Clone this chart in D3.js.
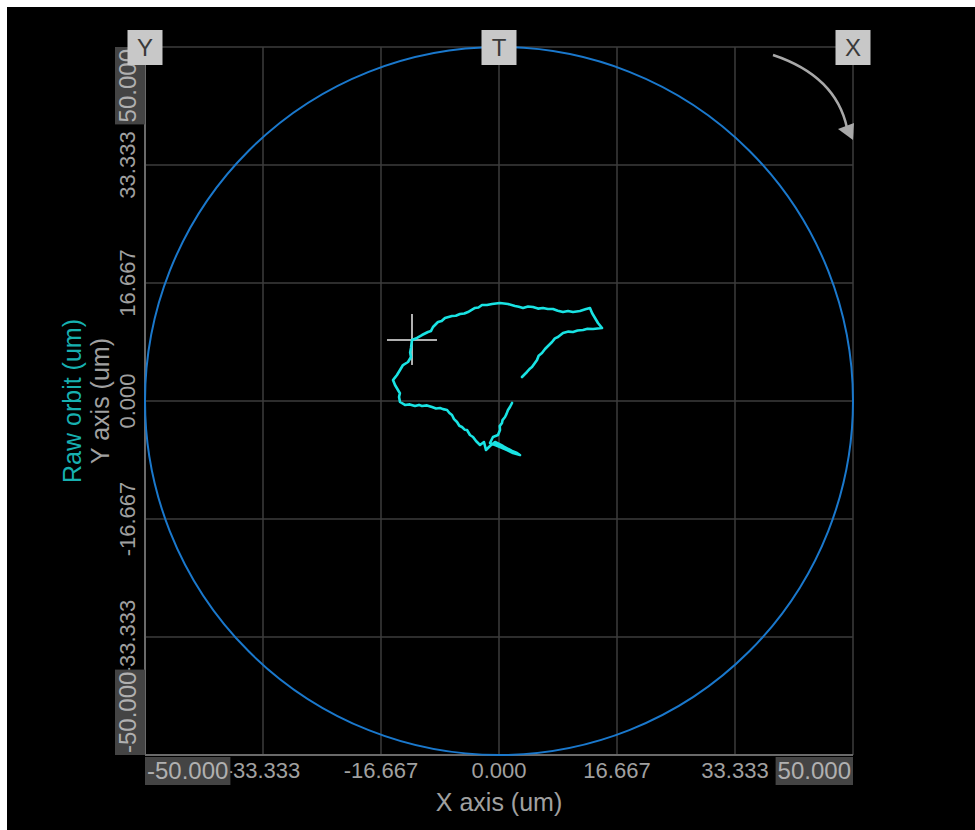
<!DOCTYPE html>
<html>
<head>
<meta charset="utf-8">
<script src="https://cdn.jsdelivr.net/npm/d3@7"></script>
<style>
  html, body { margin: 0; padding: 0; background: #ffffff; }
  svg { display: block; }
  text { font-family: "Liberation Sans", Arial, sans-serif; }
</style>
</head>
<body>
<svg id="chart" width="975" height="830"></svg>
<script>
// Axis ranges and tick labels (um)
const axisMin = -50;
const axisMax = 50;
const tickValues = [-50, -33.333, -16.667, 0, 16.667, 33.333, 50];
const tickLabels = ["-50.000", "-33.333", "-16.667", "0.000", "16.667", "33.333", "50.000"];

// Reference circle radius (um)
const circleRadius = 50;

// Raw orbit samples (um)
const orbitX = [1.84, 1.55, 1.27, 1.05, 0.85, 0.50, 0.42, 0.10, 0.14, -0.14, -0.85, -1.27, 0.14, 1.13, 1.98, 2.97, 2.55, 1.84, 0.56, -0.56,
  -1.27, -1.84, -2.12, -2.68, -3.25, -3.67, -4.10, -4.52, -4.85, -5.23, -5.60, -5.93, -6.35, -6.64, -7.00, -7.34, -7.90, -8.33, -8.90, -9.46,
  -10.17, -10.88, -11.30, -11.86, -12.60, -13.28, -13.98, -14.12, -14.00, -14.27, -14.69, -14.97, -14.70, -14.41, -13.98, -13.56, -12.85, -12.43, -12.55, -12.43,
  -12.29, -11.58, -10.88, -10.03, -9.60, -9.32, -8.62, -8.10, -7.63, -6.64, -6.10, -5.51, -4.90, -4.38, -3.39, -2.90, -2.40, -1.70, -0.99, 0.14,
  1.27, 2.26, 2.80, 3.39, 4.10, 4.80, 5.50, 6.21, 6.90, 7.63, 8.30, 9.04, 9.75, 10.45, 11.44, 12.20, 12.85, 13.14, 13.56, 13.98,
  14.55, 13.28, 12.50, 11.86, 11.10, 10.45, 9.80, 9.04, 8.33, 7.90, 7.49, 6.78, 6.50, 6.07, 5.60, 5.37, 4.66, 4.40, 3.95, 3.25];
const orbitY = [-0.28, -0.85, -1.27, -1.85, -2.26, -2.70, -3.11, -3.55, -4.10, -4.80, -5.08, -5.93, -6.50, -6.92, -7.34, -7.63, -7.35, -7.06, -6.36, -5.79,
  -6.36, -6.92, -5.79, -6.21, -5.65, -5.08, -4.80, -4.10, -4.05, -3.67, -3.50, -2.97, -2.55, -1.98, -1.70, -1.27, -1.15, -0.99, -1.05, -0.85,
  -0.62, -0.71, -0.55, -0.71, -0.48, -0.56, -0.14, 0.56, 1.10, 1.55, 2.26, 2.97, 3.30, 3.67, 4.38, 5.08, 5.51, 6.21, 6.85, 7.49,
  8.62, 8.90, 9.32, 9.75, 9.90, 10.45, 11.16, 11.30, 11.72, 12.01, 12.05, 12.29, 12.35, 12.57, 13.14, 13.20, 13.56, 13.55, 13.70, 13.84,
  13.70, 13.42, 13.30, 13.14, 13.35, 13.28, 13.05, 13.14, 13.00, 12.99, 12.75, 12.57, 12.72, 12.57, 12.71, 12.95, 13.14, 12.43, 11.72, 11.02,
  10.31, 10.17, 10.20, 10.03, 9.95, 9.75, 9.80, 9.60, 9.04, 8.85, 8.33, 7.63, 7.35, 6.78, 6.40, 5.79, 4.80, 4.60, 4.10, 3.39];

// Sample highlighted with the cursor cross
const markerIndex = 60;

const svg = d3.select("#chart");
const plot = { left: 145, top: 47, size: 708 };

const x = d3.scaleLinear().domain([axisMin, axisMax]).range([plot.left, plot.left + plot.size]);
const y = d3.scaleLinear().domain([axisMin, axisMax]).range([plot.top + plot.size, plot.top]);

const gridColor = "#3c3c3c";
const labelColor = "#a0a0a0";
const tickFont = 22;
const endFont = 24;

// Black panel
svg.append("rect").attr("x", 7).attr("y", 7).attr("width", 968).attr("height", 823).attr("fill", "#000");

// Grid and frame
const grid = svg.append("g");
grid.selectAll("line.v").data(tickValues.slice(1)).join("line")
  .attr("x1", d => x(d)).attr("x2", d => x(d))
  .attr("y1", y(axisMax)).attr("y2", y(axisMin))
  .attr("stroke", gridColor).attr("stroke-width", 1.5);
grid.selectAll("line.h").data(tickValues.slice(1)).join("line")
  .attr("y1", d => y(d)).attr("y2", d => y(d))
  .attr("x1", x(axisMin)).attr("x2", x(axisMax))
  .attr("stroke", gridColor).attr("stroke-width", 1.5);

// Axis lines
svg.append("line").attr("x1", x(axisMin)).attr("x2", x(axisMin))
  .attr("y1", y(axisMax)).attr("y2", y(axisMin)).attr("stroke", "#6a6a6a").attr("stroke-width", 2);
svg.append("line").attr("x1", x(axisMin)).attr("x2", x(axisMax))
  .attr("y1", y(axisMin)).attr("y2", y(axisMin)).attr("stroke", "#6a6a6a").attr("stroke-width", 2);

// Reference circle
svg.append("circle")
  .attr("cx", x(0)).attr("cy", y(0))
  .attr("r", x(circleRadius) - x(0))
  .attr("fill", "none").attr("stroke", "#1a78cc").attr("stroke-width", 2);

// Cursor cross on the highlighted sample
const mx = x(orbitX[markerIndex]), my = y(orbitY[markerIndex]);
svg.append("line").attr("x1", mx - 25).attr("x2", mx + 25).attr("y1", my).attr("y2", my)
  .attr("stroke", "#b0b0b0").attr("stroke-width", 2);
svg.append("line").attr("x1", mx).attr("x2", mx).attr("y1", my - 26).attr("y2", my + 25)
  .attr("stroke", "#b0b0b0").attr("stroke-width", 2);

// Orbit trace
const orbit = orbitX.map((v, i) => [v, orbitY[i]]);
svg.append("path")
  .attr("d", d3.line().x(d => x(d[0])).y(d => y(d[1]))(orbit))
  .attr("fill", "none").attr("stroke", "#19e3e3").attr("stroke-width", 2.6)
  .attr("stroke-linejoin", "round").attr("stroke-linecap", "round");

// Inner tick labels (X)
const inner = tickValues.map((v, i) => ({ v, label: tickLabels[i] })).slice(1, -1);
svg.selectAll("text.xt").data(inner).join("text")
  .attr("x", d => x(d.v)).attr("y", 778)
  .attr("text-anchor", "middle").attr("font-size", tickFont).attr("fill", labelColor)
  .text(d => d.label);

// Inner tick labels (Y), rotated
svg.selectAll("text.yt").data(inner).join("text")
  .attr("transform", d => `translate(135, ${y(d.v)}) rotate(-90)`)
  .attr("text-anchor", "middle").attr("font-size", tickFont).attr("fill", labelColor)
  .text(d => d.label);

// End labels on a dark plate; crossLo/crossHi give the plate's depth across the text
function endLabel(g, text, anchor, crossLo, crossHi) {
  const t = g.append("text").attr("text-anchor", anchor).attr("font-size", endFont)
    .attr("fill", "#b0b0b0").text(text);
  const b = t.node().getBBox();
  g.insert("rect", "text")
    .attr("x", b.x - 2).attr("y", crossLo).attr("width", b.width + 4).attr("height", crossHi - crossLo)
    .attr("fill", "#444");
}
endLabel(svg.append("g").attr("transform", `translate(${x(axisMin) + 2}, 779)`), tickLabels[0], "start", -22, 6);
endLabel(svg.append("g").attr("transform", `translate(${x(axisMax) - 2}, 779)`), tickLabels[6], "end", -22, 6);
endLabel(svg.append("g").attr("transform", `translate(136, ${y(axisMin) - 2}) rotate(-90)`), tickLabels[0], "start", -21, 9);
endLabel(svg.append("g").attr("transform", `translate(136, ${y(axisMax) + 2}) rotate(-90)`), tickLabels[6], "end", -21, 9);

// Axis titles
svg.append("text").attr("x", x(0)).attr("y", 811).attr("text-anchor", "middle")
  .attr("font-size", 25).attr("fill", labelColor).text("X axis (um)");
svg.append("text").attr("transform", `translate(109, ${y(0)}) rotate(-90)`).attr("text-anchor", "middle")
  .attr("font-size", 25).attr("fill", labelColor).text("Y axis (um)");
svg.append("text").attr("transform", `translate(81, ${y(0)}) rotate(-90)`).attr("text-anchor", "middle")
  .attr("font-size", 25).attr("fill", "#17b0b0").text("Raw orbit (um)");

// Rotation direction arrow
svg.append("path").attr("d", "M773,55 Q836,76 847,128")
  .attr("fill", "none").attr("stroke", "#a8a8a8").attr("stroke-width", 2.5);
svg.append("path").attr("d", "M838,129 L854,123 L853,140 Z").attr("fill", "#a8a8a8");

// Probe markers
const probes = [{ name: "Y", v: axisMin }, { name: "T", v: 0 }, { name: "X", v: axisMax }];
const pg = svg.selectAll("g.probe").data(probes).join("g")
  .attr("transform", d => `translate(${x(d.v)}, ${y(axisMax)})`);
pg.append("rect").attr("x", -17.5).attr("y", -17).attr("width", 35).attr("height", 35)
  .attr("fill", "#c8c8c8");
pg.append("text").attr("y", 9).attr("text-anchor", "middle").attr("font-size", 24)
  .attr("fill", "#3a3a3a").text(d => d.name);
</script>
</body>
</html>
